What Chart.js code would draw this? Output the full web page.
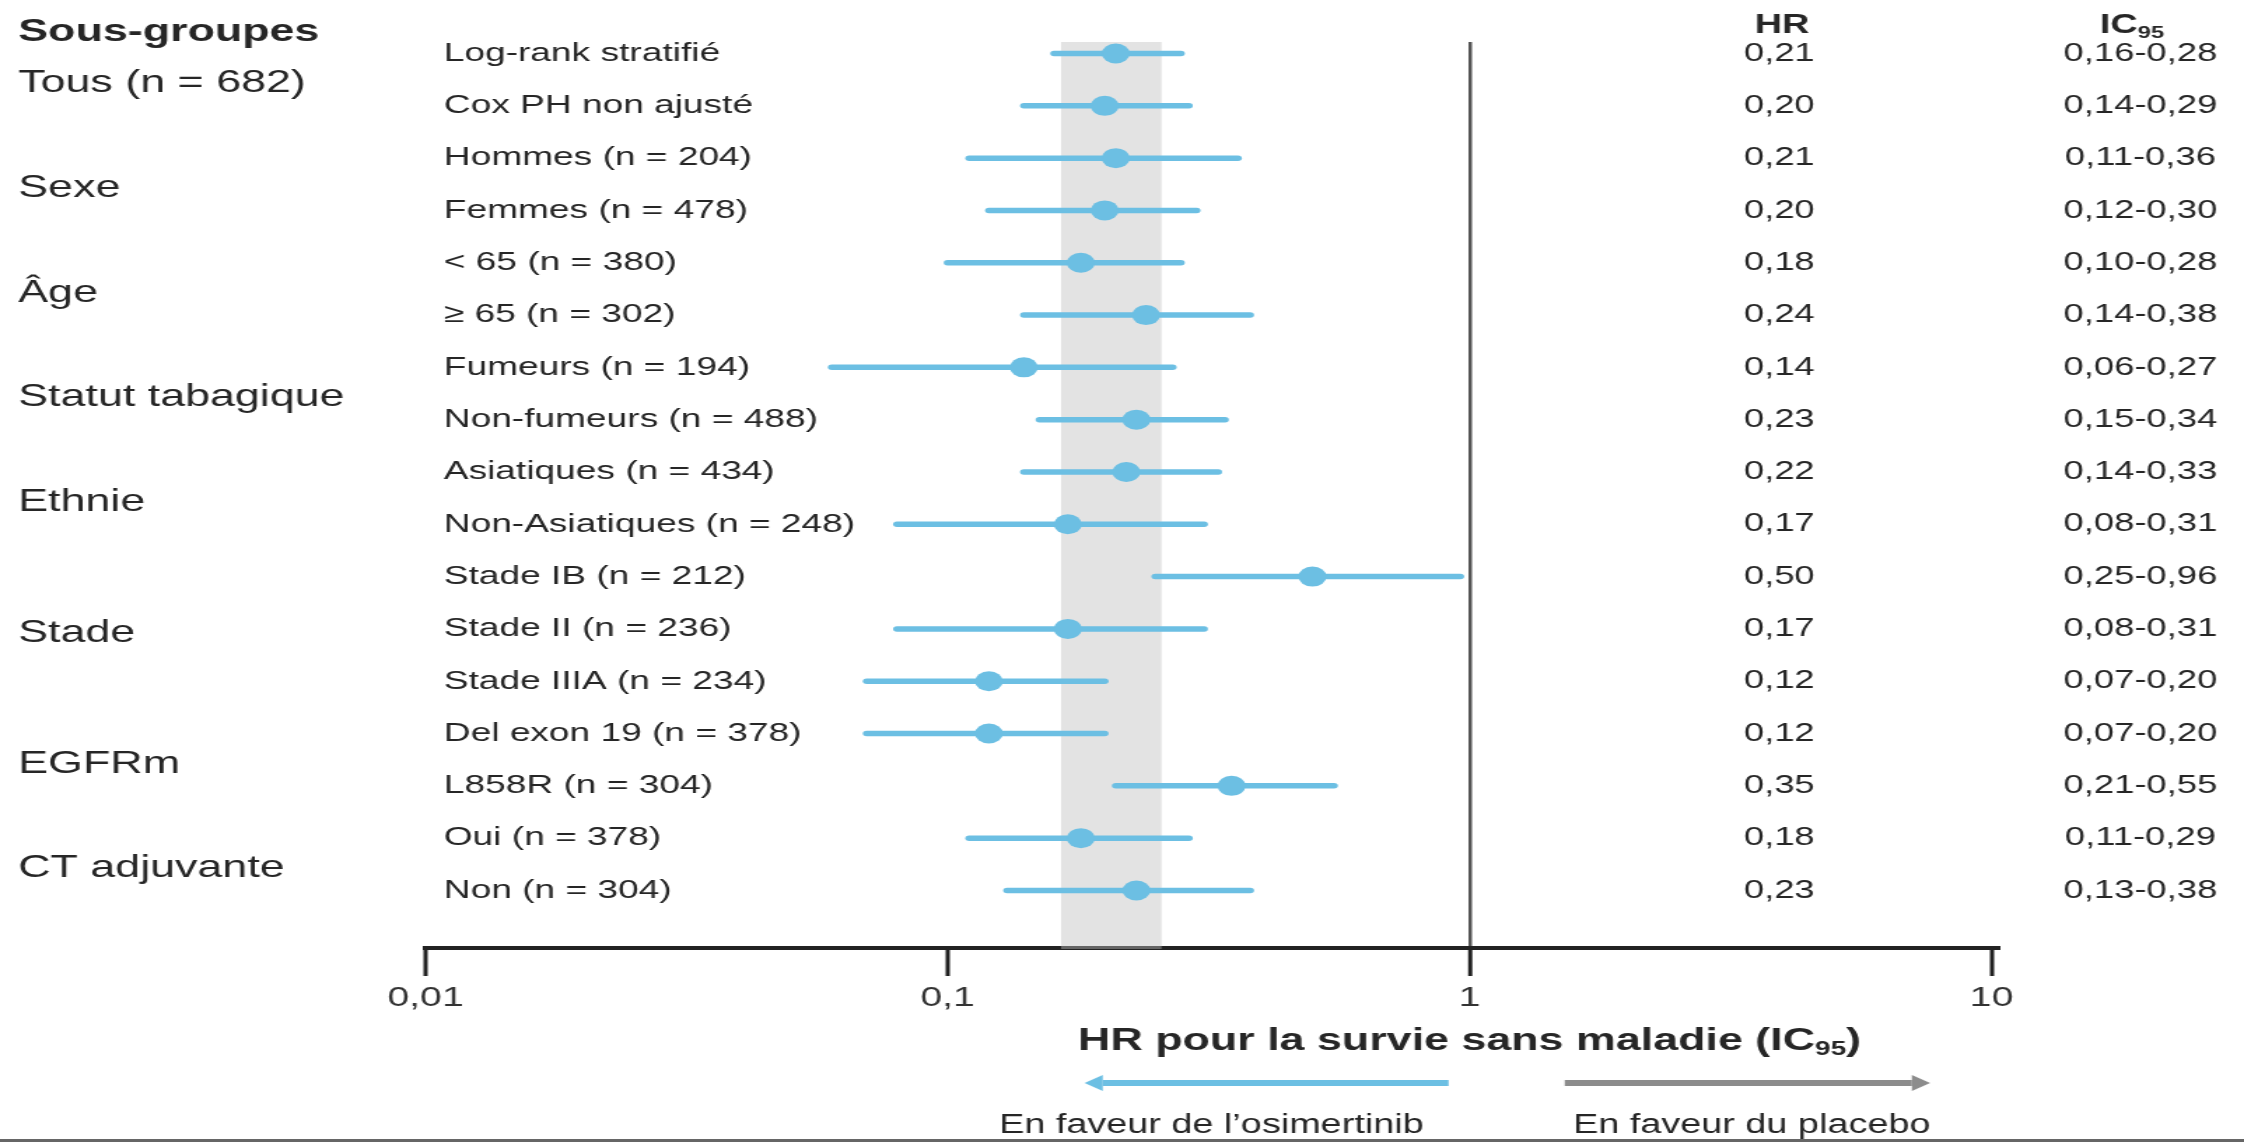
<!DOCTYPE html>
<html lang="fr">
<head>
<meta charset="utf-8">
<title>HR pour la survie sans maladie</title>
<script src="https://cdn.jsdelivr.net/npm/chart.js@4.4.1/dist/chart.umd.min.js"></script>
<style>
  html, body { margin: 0; padding: 0; background: #fff; overflow: hidden; }
  /* the reference is stretched sideways, so the bitmap is drawn narrow and widened by CSS */
  #forest { display: block; width: 2244px; height: 1142px; }
</style>
</head>
<body>
<canvas id="forest" width="1603" height="1142" style="width:2244px;height:1142px"></canvas>
<script>
// --- data ---
const groupLabels = ['Tous (n = 682)', 'Sexe', 'Âge', 'Statut tabagique', 'Ethnie', 'Stade', 'EGFRm', 'CT adjuvante'];
const groupSizes = [2, 2, 2, 2, 2, 3, 2, 2];
const rowLabels = [
    'Log-rank stratifié', 'Cox PH non ajusté',
    'Hommes (n = 204)', 'Femmes (n = 478)',
    '< 65 (n = 380)', '≥ 65 (n = 302)',
    'Fumeurs (n = 194)', 'Non-fumeurs (n = 488)',
    'Asiatiques (n = 434)', 'Non-Asiatiques (n = 248)',
    'Stade IB (n = 212)', 'Stade II (n = 236)', 'Stade IIIA (n = 234)',
    'Del exon 19 (n = 378)', 'L858R (n = 304)',
    'Oui (n = 378)', 'Non (n = 304)'
];
const hr     = [0.21, 0.20, 0.21, 0.20, 0.18, 0.24, 0.14, 0.23, 0.22, 0.17, 0.50, 0.17, 0.12, 0.12, 0.35, 0.18, 0.23];
const ciLow  = [0.16, 0.14, 0.11, 0.12, 0.10, 0.14, 0.06, 0.15, 0.14, 0.08, 0.25, 0.08, 0.07, 0.07, 0.21, 0.11, 0.13];
const ciHigh = [0.28, 0.29, 0.36, 0.30, 0.28, 0.38, 0.27, 0.34, 0.33, 0.31, 0.96, 0.31, 0.20, 0.20, 0.55, 0.29, 0.38];
const xTicks = [0.01, 0.1, 1, 10];
const xTickLabels = ['0,01', '0,1', '1', '10'];
const bandRange = [0.165, 0.257];

const FONT = '"Liberation Sans", Arial, Helvetica, sans-serif';
const BLUE = '#6cbfe3';
const TEXT = '#262626';

const fmt = v => v.toFixed(2).replace('.', ',');

// text followed by a subscript and a tail, centred on cx
function subText(ctx, main, sub, tail, cx, cy, size, weight) {
    const big = `${weight} ${size}px ${FONT}`;
    const small = `${weight} ${Math.round(size * 0.62)}px ${FONT}`;
    ctx.font = big;
    const w1 = ctx.measureText(main).width;
    const w3 = ctx.measureText(tail).width;
    ctx.font = small;
    const w2 = ctx.measureText(sub).width;
    let x0 = cx - (w1 + w2 + w3) / 2;
    ctx.textAlign = 'left';
    ctx.font = big;
    ctx.fillText(main, x0, cy);
    ctx.font = small;
    ctx.fillText(sub, x0 + w1, cy + size * 0.27);
    ctx.font = big;
    ctx.fillText(tail, x0 + w1 + w2, cy);
}

function arrow(ctx, xFrom, xTo, yy, color) {
    // shaft from xFrom to the head, head pointing at xTo
    const dir = Math.sign(xTo - xFrom);
    const headLen = 13, headHalf = 8, shaft = 6;
    ctx.fillStyle = color;
    const xs = xTo - dir * headLen;
    ctx.fillRect(Math.min(xFrom, xs), yy - shaft / 2, Math.abs(xs - xFrom), shaft);
    ctx.beginPath();
    ctx.moveTo(xTo, yy);
    ctx.lineTo(xs, yy - headHalf);
    ctx.lineTo(xs, yy + headHalf);
    ctx.closePath();
    ctx.fill();
}

const forestDecor = {
    id: 'forestDecor',
    beforeDatasetsDraw(chart) {
        const { ctx, chartArea, scales: { x } } = chart;
        const a = x.getPixelForValue(bandRange[0]);
        const b = x.getPixelForValue(bandRange[1]);
        ctx.save();
        ctx.fillStyle = 'rgba(190,190,190,0.43)';
        ctx.fillRect(a, chartArea.top, b - a, chartArea.bottom - chartArea.top + 1);
        ctx.restore();
    },
    afterDraw(chart) {
        const { ctx, scales: { x, y } } = chart;
        const one = x.getPixelForValue(1);
        ctx.save();
        ctx.fillStyle = TEXT;
        ctx.textBaseline = 'middle';

        // column headers
        ctx.textAlign = 'left';
        ctx.font = `bold 32px ${FONT}`;
        ctx.fillText('Sous-groupes', 13, 32);
        ctx.textAlign = 'center';
        ctx.font = `bold 27px ${FONT}`;
        ctx.fillText('HR', 1273, 26);
        subText(ctx, 'IC', '95', '', 1523, 26, 27, 'bold');

        // group labels, centred on their rows
        ctx.textAlign = 'left';
        ctx.font = `32px ${FONT}`;
        let start = 0;
        groupLabels.forEach((g, k) => {
            const end = start + groupSizes[k] - 1;
            const gy = (y.getPixelForValue(start) + y.getPixelForValue(end)) / 2 + 4;
            ctx.fillText(g, 13, gy);
            start = end + 1;
        });

        // row labels and the HR / IC columns
        rowLabels.forEach((label, i) => {
            const py = y.getPixelForValue(i);
            ctx.textAlign = 'left';
            ctx.font = `26.5px ${FONT}`;
            ctx.fillText(label, 317, py);
            ctx.textAlign = 'center';
            ctx.font = `26px ${FONT}`;
            ctx.fillText(fmt(hr[i]), 1271, py);
            ctx.fillText(fmt(ciLow[i]) + '-' + fmt(ciHigh[i]), 1529, py);
        });

        // axis title
        subText(ctx, 'HR pour la survie sans maladie (IC', '95', ')', one, 1041, 32, 'bold');

        // favour arrows
        arrow(ctx, one - 15, one - 275, 1083, BLUE);
        arrow(ctx, one + 68, one + 329, 1083, '#8c8c8c');
        ctx.fillStyle = TEXT;
        ctx.textAlign = 'left';
        ctx.font = `27px ${FONT}`;
        ctx.fillText('En faveur de l’osimertinib', one - 336, 1126);
        ctx.fillText('En faveur du placebo', one + 74, 1126);

        // frame line at the bottom of the picture
        ctx.fillStyle = '#666';
        ctx.fillRect(0, 1139, chart.width, 3);
        ctx.restore();
    }
};

const ciSets = rowLabels.map((_, i) => ({
    data: [{ x: ciLow[i], y: i }, { x: ciHigh[i], y: i }],
    showLine: true,
    borderColor: BLUE,
    borderWidth: 5.5,
    borderCapStyle: 'round',
    pointRadius: 0,
    order: 2
}));

const hrSet = {
    data: hr.map((v, i) => ({ x: v, y: i })),
    pointRadius: 10,
    pointBackgroundColor: BLUE,
    pointBorderWidth: 0,
    order: 1
};

new Chart(document.getElementById('forest'), {
    type: 'scatter',
    data: { datasets: [...ciSets, hrSet] },
    options: {
        responsive: false,
        devicePixelRatio: 1,
        animation: false,
        events: [],
        layout: { padding: { left: 304, right: 174, top: 42, bottom: 0 } },
        plugins: { legend: { display: false }, tooltip: { enabled: false } },
        scales: {
            x: {
                type: 'logarithmic',
                min: 0.01,
                max: 10.4,
                afterBuildTicks: s => { s.ticks = xTicks.map(v => ({ value: v })); },
                afterFit: s => { s.height = 194; },
                ticks: {
                    callback: (v, i) => xTickLabels[i],
                    font: { family: FONT, size: 28 },
                    color: '#333',
                    padding: 5,
                    maxRotation: 0,
                    autoSkip: false
                },
                grid: {
                    drawOnChartArea: true,
                    color: c => (c.tick && c.tick.value === 1) ? '#555' : 'rgba(0,0,0,0)',
                    lineWidth: c => (c.tick && c.tick.value === 1) ? 2.5 : 0,
                    tickLength: 28,
                    tickColor: '#222',
                    tickWidth: 3
                },
                border: { display: true, color: '#222', width: 4 }
            },
            y: {
                type: 'linear',
                display: false,
                reverse: true,
                min: -0.22,
                max: 17.1
            }
        }
    },
    plugins: [forestDecor]
});
</script>
</body>
</html>
